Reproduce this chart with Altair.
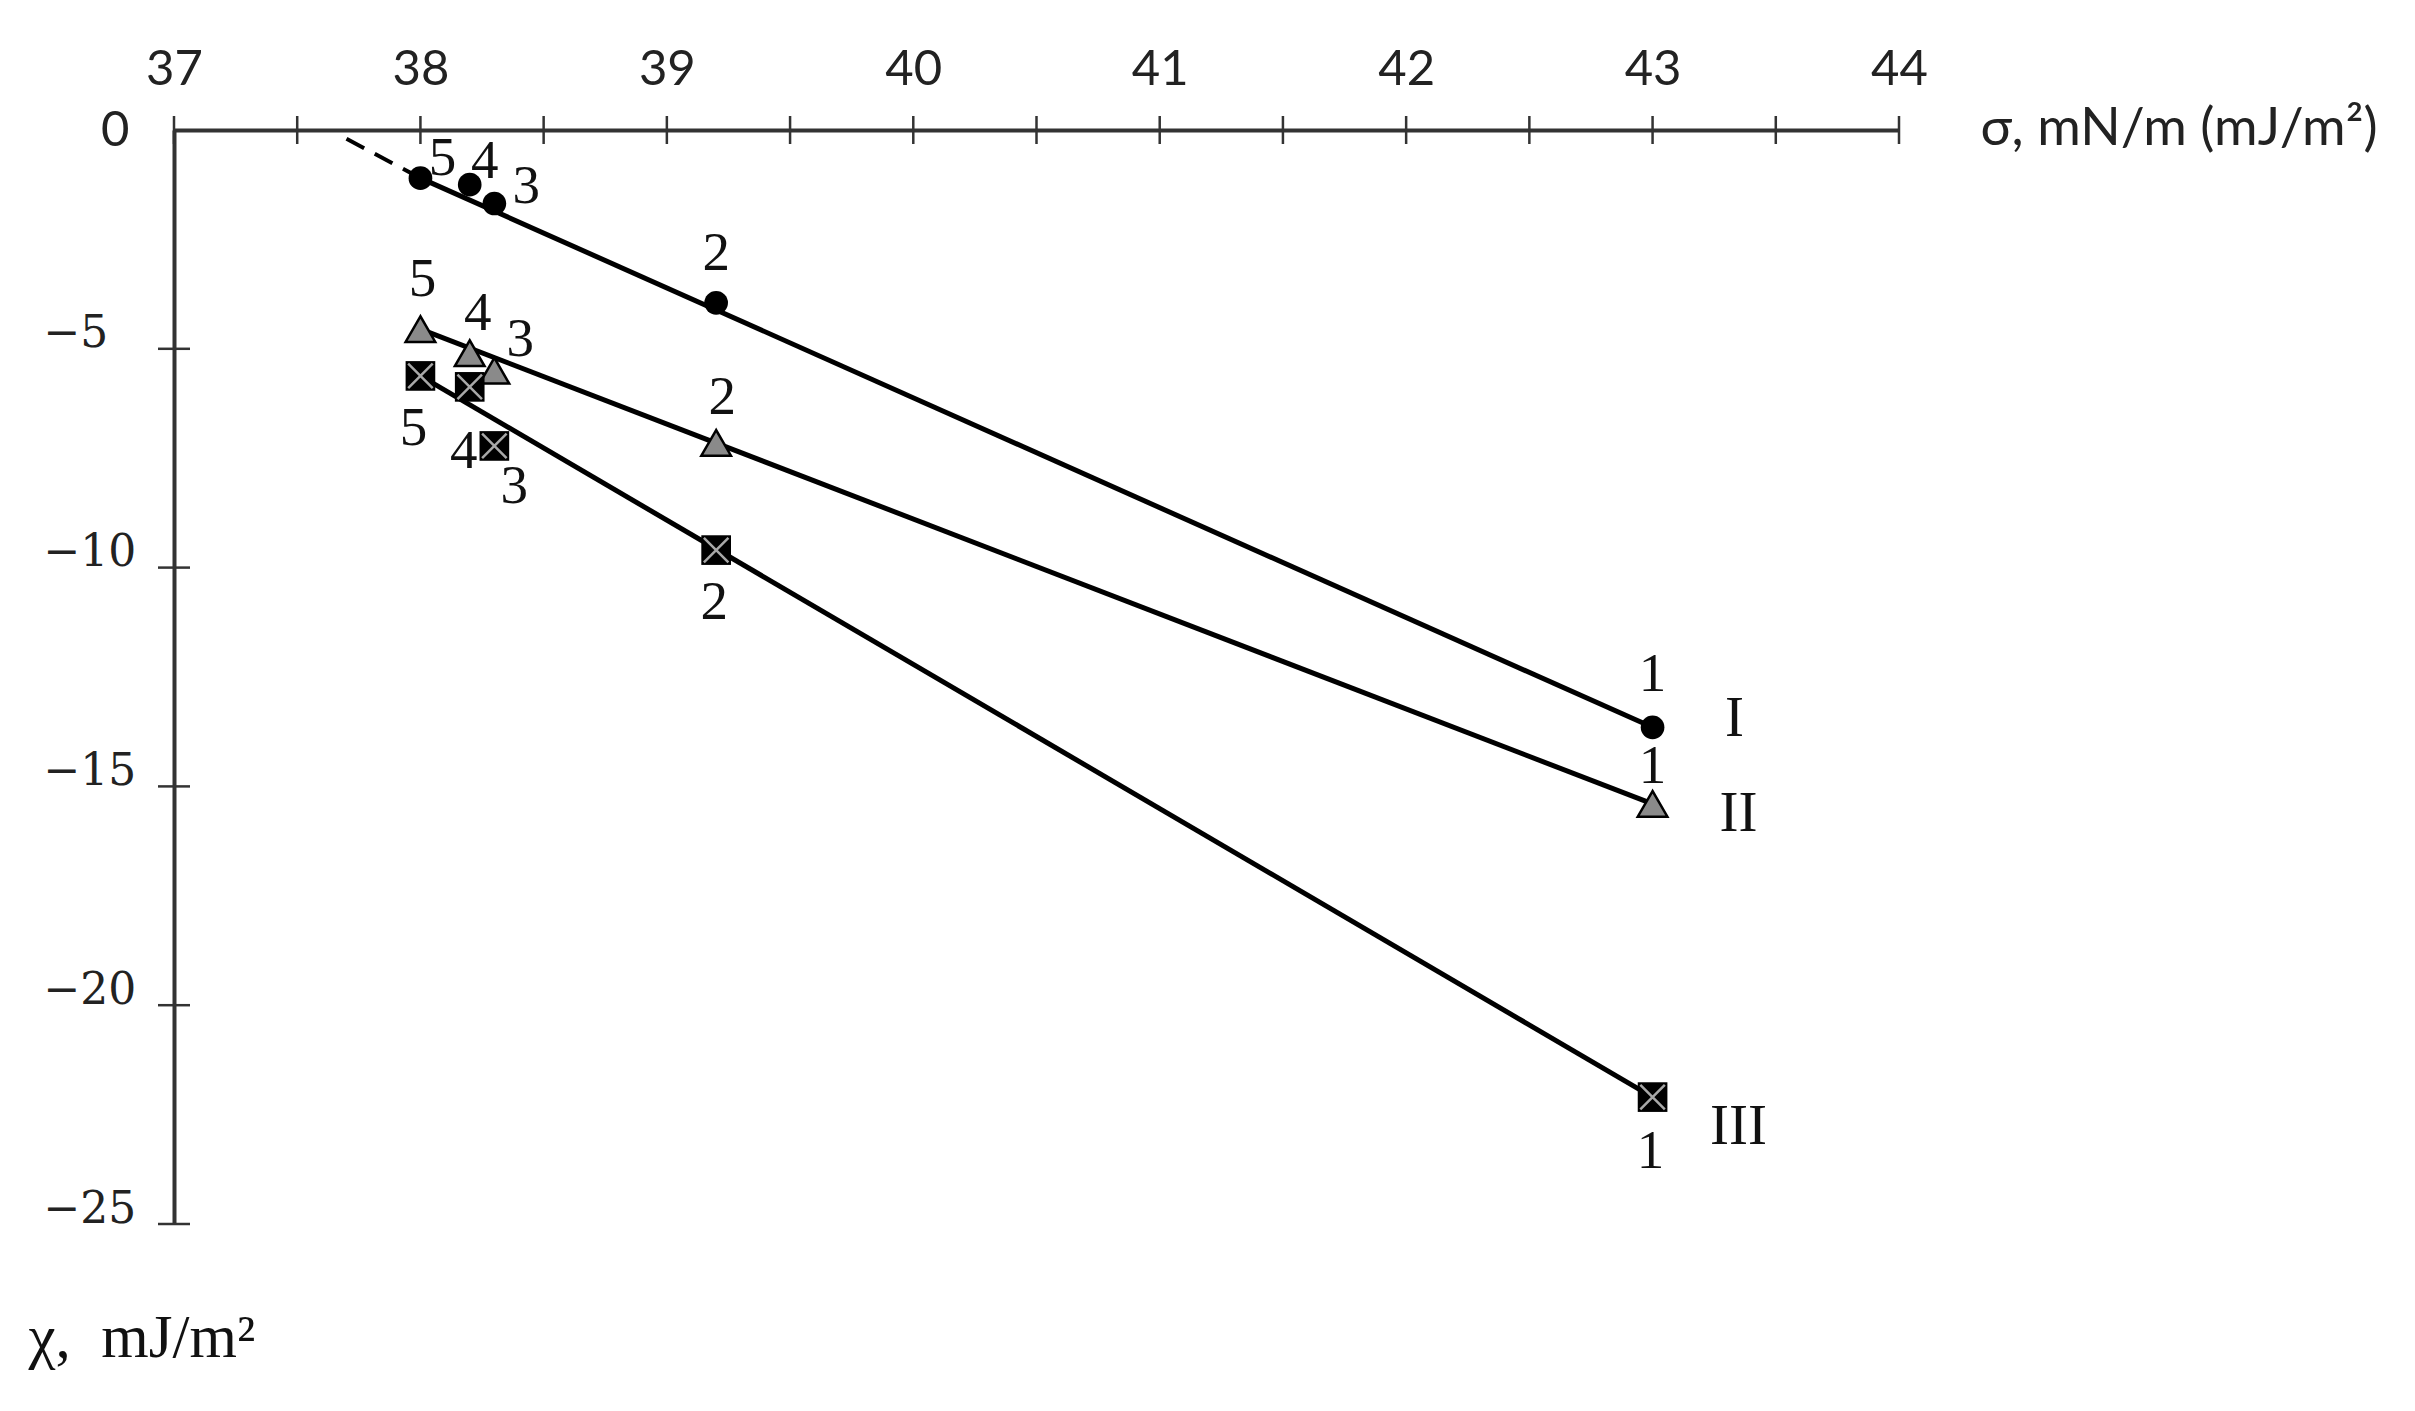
import altair as alt
import pandas as pd

# ---- data ----
SERIES = ["I", "II", "III"]
POINT_NO = ["1", "2", "3", "4", "5"]
SIGMA = [43.0, 39.2, 38.3, 38.2, 38.0]
CHI_I = [-13.65, -3.95, -1.68, -1.25, -1.10]
CHI_II = [-15.40, -7.15, -5.50, -5.10, -4.55]
CHI_III = [-22.10, -9.60, -7.22, -5.87, -5.62]

FIT_SIGMA = [38.0, 43.0]
FIT_I = [-1.10, -13.65]
FIT_II = [-4.55, -15.40]
FIT_III = [-5.62, -22.10]

EXTRAP_SIGMA = [37.7, 38.0]
EXTRAP_I = [-0.20, -1.10]

X_LABEL_VALUES = [37, 38, 39, 40, 41, 42, 43, 44]
X_TICK_VALUES = [37, 37.5, 38, 38.5, 39, 39.5, 40, 40.5, 41, 41.5, 42, 42.5, 43, 43.5, 44]
Y_TICK_VALUES = [0, -5, -10, -15, -20, -25]

# ---- tables ----
chis = {"I": CHI_I, "II": CHI_II, "III": CHI_III}
points = pd.DataFrame(
    [{"series": s, "no": n, "sigma": x, "chi": y}
     for s in SERIES for n, x, y in zip(POINT_NO, SIGMA, chis[s])]
)
fits = {"I": FIT_I, "II": FIT_II, "III": FIT_III}
fit_df = pd.DataFrame(
    [{"series": s, "sigma": x, "chi": y} for s in SERIES for x, y in zip(FIT_SIGMA, fits[s])]
)
extrap_df = pd.DataFrame({"sigma": EXTRAP_SIGMA, "chi": EXTRAP_I})
xtick_df = pd.DataFrame({"v": X_TICK_VALUES})
ytick_df = pd.DataFrame({"v": Y_TICK_VALUES[1:]})

# ---- styling ----
AXIS_COLOR = "#333333"
SERIF = "Liberation Serif"
SANS = "Lato"

xscale = alt.Scale(domain=[37, 44], nice=False, zero=False)
yscale = alt.Scale(domain=[-25, 0], nice=False, zero=False)

is_zero = "datum.value === 0"
xaxis = alt.Axis(
    orient="top", values=X_LABEL_VALUES, ticks=False, tickSize=0, grid=False,
    labelPadding=36, labelFont=SANS, labelFontSize=49, labelColor="#222222",
    labelFlush=False, format="d",
    domainColor=AXIS_COLOR, domainWidth=4,
    title="σ, mN/m (mJ/m²)", titleFont=SANS, titleFontSize=53, titleFontWeight="normal",
    titleColor="#222222", titleX=1806, titleY=-2, titleAlign="left", titleBaseline="middle",
)
yaxis = alt.Axis(
    values=Y_TICK_VALUES, ticks=False, tickSize=0, grid=False,
    labelFont={"condition": {"test": is_zero, "value": SANS}, "value": "DejaVu Serif"},
    labelFontSize={"condition": {"test": is_zero, "value": 49}, "value": 44},
    labelOffset={"condition": {"test": is_zero, "value": 0}, "value": -15},
    labelPadding={"condition": {"test": is_zero, "value": 45}, "value": 131},
    labelAlign={"condition": {"test": is_zero, "value": "right"}, "value": "left"},
    labelBaseline="middle", labelColor="#222222", labelOverlap=False, labelFlush=False,
    domainColor=AXIS_COLOR, domainWidth=4,
    title="χ,\u00a0\u00a0mJ/m²", titleFont=SERIF, titleFontSize=61, titleFontWeight="normal",
    titleColor="#111111", titleAngle=0, titleX=-146, titleY=1226,
    titleAlign="left", titleBaseline="alphabetic",
)


def X(field="sigma"):
    return alt.X(f"{field}:Q", scale=xscale, axis=xaxis)


def Y(field="chi"):
    return alt.Y(f"{field}:Q", scale=yscale, axis=yaxis)


base = alt.Chart(points)

lines = alt.Chart(fit_df).mark_line(color="black", strokeWidth=5).encode(
    x=X(), y=Y(), detail="series:N"
)
extrap = alt.Chart(extrap_df).mark_line(
    color="black", strokeWidth=4, strokeDash=[20, 12]
).encode(x=X(), y=Y())

xticks = alt.Chart(xtick_df).mark_rule(color=AXIS_COLOR, strokeWidth=2.5).encode(
    x=X("v"), y=alt.value(-14), y2=alt.value(14)
)
yticks = alt.Chart(ytick_df).mark_rule(color=AXIS_COLOR, strokeWidth=2.5).encode(
    y=Y("v"), x=alt.value(-16), x2=alt.value(16)
)

circles = base.transform_filter("datum.series === 'I'").mark_point(
    shape="circle", filled=True, color="black", size=560, opacity=1
).encode(x=X(), y=Y())
triangles = base.transform_filter("datum.series === 'II'").mark_point(
    shape="triangle-up", filled=True, fill="#8a8a8a", stroke="black",
    strokeWidth=2.5, size=880, opacity=1
).encode(x=X(), y=Y())
squares = base.transform_filter("datum.series === 'III'").mark_point(
    shape="square", filled=True, color="black", size=880, opacity=1
).encode(x=X(), y=Y())
crosses = base.transform_filter("datum.series === 'III'").mark_point(
    shape="M-1,-1L1,1M-1,1L1,-1", filled=False, stroke="#a8a8a8",
    strokeWidth=2.5, size=600, opacity=1
).encode(x=X(), y=Y())

# point-number label offsets (pixels) relative to each point
LABEL_OFFSETS = {
    ("I", "5"): (22, -20), ("I", "4"): (15, -24), ("I", "3"): (32, -18),
    ("I", "2"): (0, -50), ("I", "1"): (0, -53),
    ("II", "5"): (2, -50), ("II", "4"): (8, -40), ("II", "3"): (26, -32),
    ("II", "2"): (6, -46), ("II", "1"): (0, -38),
    ("III", "5"): (-7, 52), ("III", "4"): (-6, 64), ("III", "3"): (20, 40),
    ("III", "2"): (-2, 52), ("III", "1"): (-2, 54),
}
ROMAN_OFFSETS = {"I": (82, -8), "II": (86, 10), "III": (86, 30)}

label_layers = []
for (s, n), (dx, dy) in LABEL_OFFSETS.items():
    label_layers.append(
        base.transform_filter(f"datum.series === '{s}' && datum.no === '{n}'")
        .mark_text(font=SERIF, fontSize=55, color="#111111", dx=dx, dy=dy,
                   align="center", baseline="middle")
        .encode(x=X(), y=Y(), text="no:N")
    )
for s, (dx, dy) in ROMAN_OFFSETS.items():
    label_layers.append(
        base.transform_filter(f"datum.series === '{s}' && datum.no === '1'")
        .mark_text(font=SERIF, fontSize=57, color="#111111", dx=dx, dy=dy,
                   align="center", baseline="middle")
        .encode(x=X(), y=Y(), text="series:N")
    )

chart = alt.layer(
    lines, extrap, xticks, yticks, circles, triangles, squares, crosses, *label_layers
).properties(
    width=1725, height=1094,
    padding={"left": 166, "top": 122, "right": 500, "bottom": 170},
    autosize=alt.AutoSizeParams(type="none"),
    background="white",
).configure_view(stroke=None)

chart.save("out.html", embed_options={"renderer": "svg", "actions": False})
